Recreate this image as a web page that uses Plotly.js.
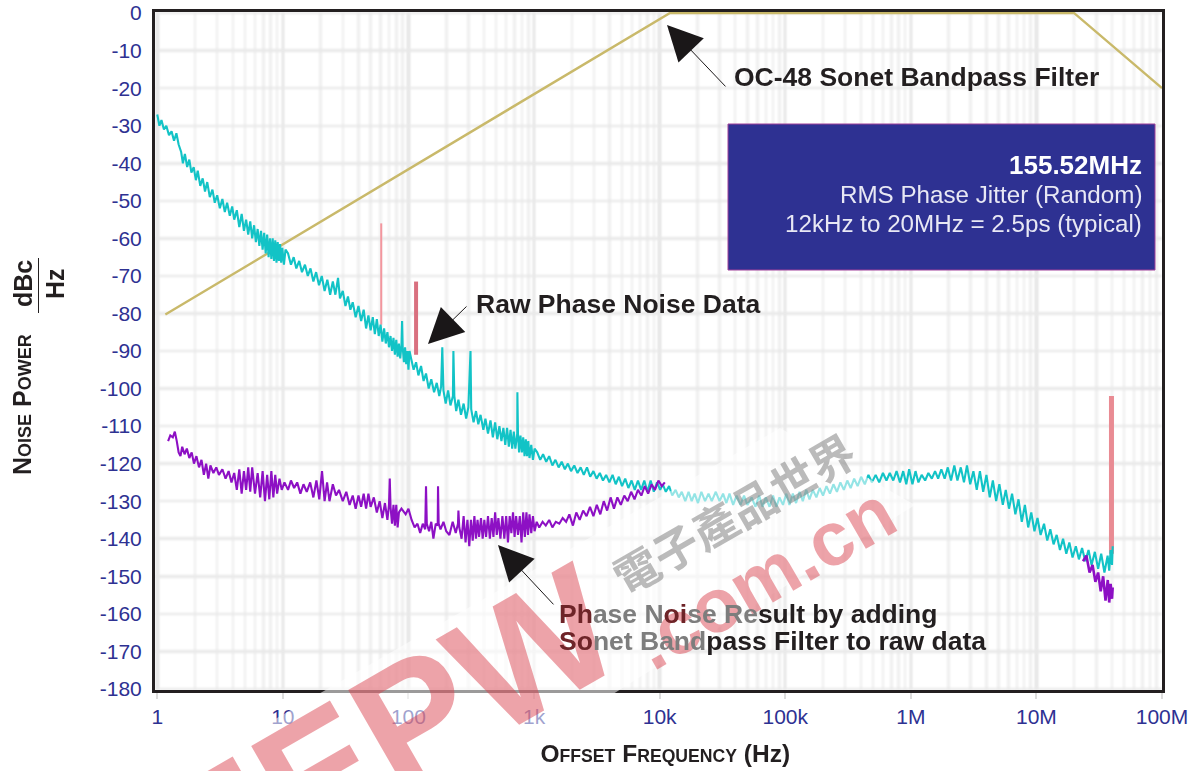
<!DOCTYPE html>
<html><head><meta charset="utf-8">
<script src="https://cdn.plot.ly/plotly-3.0.1.min.js"></script>
<style>html,body{margin:0;padding:0;background:#fff}#g{width:1204px;height:771px}</style>
</head><body><div id="g"></div>
<script>
const xTickVals=[1,10,100,1000,10000,100000,1000000,10000000,100000000];
const xTickText=['1','10','100','1k','10k','100k','1M','10M','100M'];
const yTickVals=[0,-10,-20,-30,-40,-50,-60,-70,-80,-90,-100,-110,-120,-130,-140,-150,-160,-170,-180];
const yTickText=['0','-10','-20','-30','-40','-50','-60','-70','-80','-90','-100','-110','-120','-130','-140','-150','-160','-170','-180'];

const filterFreq=[1.16,12000,20000000,100000000];
const filterDb=[-80.3,0,0,-20];

const rawNoise=[
[1.0,-27],[1.04,-30],[1.08,-28.5],[1.13,-31],[1.18,-30],[1.24,-32.5],[1.3,-31.5],[1.36,-34],[1.42,-32],[1.48,-35],[1.55,-37],[1.6,-40],[1.66,-37.5],[1.73,-41],[1.8,-39],[1.87,-42.5],[1.95,-41],[2.03,-44.5],[2.1,-42],[2.2,-46],[2.3,-44],[2.4,-47.5],[2.5,-45],[2.62,-49],[2.75,-47],[2.87,-50.5],[3.0,-48.5],[3.15,-52],[3.3,-49.5],[3.45,-53],[3.6,-50.5],[3.78,-54],[3.95,-51.5],[4.1,-55],[4.3,-52.5],[4.5,-57],[4.7,-53.5],[4.9,-58],[5.1,-55],[5.3,-59],[5.5,-55.5],[5.7,-60],[5.9,-56.5],[6.1,-61],[6.3,-57.5],[6.5,-62],[6.7,-58],[6.9,-63],[7.1,-58.5],[7.3,-64],[7.5,-59],[7.7,-65],[7.9,-60],[8.1,-65.5],[8.3,-60],[8.5,-66],[8.7,-60.5],[8.9,-66.5],[9.1,-61],[9.3,-66],[9.5,-61.5],[9.7,-66.5],[9.9,-62.5],[10.2,-67],[10.5,-63],
[11,-64],[11.6,-67],[12.2,-65],[12.8,-68],[13.5,-66],[14.2,-69],[15,-67],[15.8,-70],[16.6,-68],[17.5,-71.5],[18.4,-69],[19.4,-72.5],[20.4,-70],[21.5,-74],[22.6,-71],[23.8,-75],[25,-71.5],[26.2,-75],[27.5,-70.5],[28.5,-76],[30,-74],[31.5,-78],[33,-75.5],[34.5,-79],[36,-77],[38,-81],[40,-78],[42,-82],[44,-79],[46,-84],[48,-80.5],[50,-84.5],[52,-81],[54,-85.5],[56,-81.5],[58,-86],[60,-83],[62,-87.5],[64,-84],[66,-88],[68,-85],[70,-89],[72,-86],[74,-90],[76,-86.5],[78,-91],[80,-87],[82,-91.5],[84,-88],[86,-92],[88,-88.5],[89,-82],[90,-89],[92,-93],[94,-89],[96,-93.5],[98,-90],[100,-95],[102,-90],
[105,-92],[110,-95],[115,-93],[120,-96.5],[126,-94],[132,-98],[138,-96],[145,-100],[152,-97.5],[160,-101],[168,-98.5],[176,-102],[182,-99.5],[186,-89],[190,-100.5],[198,-104],[207,-100.5],[216,-104.5],[226,-102],[228,-90],[232,-102],[240,-106],[250,-103],[262,-107],[275,-104],[288,-108],[300,-105],[312,-90],[316,-105.5],[330,-109],[345,-106],[360,-109.5],[375,-107],[395,-111],[410,-108],[430,-112],[450,-108.5],[470,-113],[490,-109],[510,-113.5],[530,-110],[550,-114],[570,-110.5],[590,-115],[610,-110.5],[630,-115.5],[650,-111],[670,-116],[690,-111.5],[710,-116],[735,-112],[737,-101],[745,-112],[760,-117],[780,-112.5],[800,-117],[820,-113],[840,-118],[860,-113.5],[880,-118],[900,-114],[920,-118.5],[950,-115],[980,-119],[1010,-116],
[1060,-117],[1120,-119],[1180,-117.5],[1250,-119.5],[1320,-118],[1400,-120.5],[1480,-119],[1570,-121],[1660,-119.5],[1760,-121.5],[1860,-120],[1970,-122],[2090,-120.5],[2220,-122.5],[2350,-121],[2490,-123],[2640,-121],[2800,-123.5],[2970,-122],[3150,-124],[3340,-122.5],[3540,-124.5],[3750,-123],[3980,-125],[4220,-123],[4470,-125.5],[4740,-123.5],[5020,-126],[5320,-124],[5640,-126.5],[5980,-124.5],[6340,-127],[6720,-124.5],[7120,-127],[7550,-124.5],[8000,-127.5],[8480,-124.5],[8990,-127.5],[9530,-125],[10100,-127],
[10600,-125.5],[11200,-127.5],[11900,-126],[12600,-128.5],[13400,-127],[14200,-129],[15000,-127.5],[16000,-130],[17000,-127.5],[18000,-130],[19000,-128],[20200,-130.5],[21500,-127.5],[23000,-130],[24500,-128],[26000,-130],[28000,-127.5],[30000,-130],[32000,-128],[34000,-130.5],[36000,-128],[38500,-131],[41000,-128.5],[44000,-131],[47000,-128.5],[50000,-131],[54000,-129],[58000,-131.5],[62000,-128.5],[66000,-131.5],[70000,-129],[75000,-131.5],[80000,-128.5],[85000,-131.5],[90000,-129],[96000,-131],[102000,-128],[108000,-131],[115000,-128],[122000,-130.5],[130000,-127.5],[138000,-130],[147000,-127],[156000,-129.5],[166000,-127],[177000,-129],[188000,-126.5],[200000,-128.5],[213000,-126],[227000,-128],[242000,-125.5],[258000,-127.5],[275000,-125],[293000,-127],[312000,-124.5],[332000,-126.5],[354000,-124],[377000,-126],[402000,-123.5],[430000,-125.5],[460000,-123],[490000,-125],[525000,-123],[560000,-125],[600000,-122.5],[640000,-124.5],[680000,-122.5],[725000,-124.5],[770000,-122],[820000,-125],[870000,-122],[920000,-125.5],[970000,-121.5],[1030000,-125.5],[1090000,-122],
[1150000,-125],[1220000,-123],[1300000,-124.5],[1380000,-122.5],[1470000,-124],[1560000,-122],[1650000,-124],[1750000,-121.5],[1860000,-124],[1970000,-121],[2090000,-124.5],[2220000,-120.5],[2350000,-124.5],[2500000,-121],[2650000,-125],[2800000,-120.5],[2970000,-125.5],[3150000,-122],[3350000,-127],[3550000,-122],[3770000,-127.5],[4000000,-123],[4250000,-129],[4500000,-124.5],[4780000,-130],[5070000,-125.5],[5400000,-131],[5700000,-127],[6050000,-132],[6400000,-128],[6800000,-133.5],[7200000,-129.5],[7650000,-135.5],[8100000,-131],[8600000,-137],[9100000,-133],[9650000,-138],[10200000,-134.5],[10800000,-139],[11500000,-136],[12200000,-140.5],[12900000,-137.5],[13700000,-141.5],[14500000,-139],[15400000,-143],[16300000,-140],[17300000,-144],[18300000,-141],[19400000,-145],[20600000,-142],[21800000,-145.5],[23100000,-142.5],[24500000,-146],[26000000,-143],[27500000,-147],[29200000,-143.5],[31000000,-148],[32800000,-144],[34800000,-149],[36900000,-144.5],[38000000,-148.5],[39000000,-143],[40000000,-147],[40500000,-142]
];

const filteredNoise=[
[1.22,-114],[1.27,-112.5],[1.33,-113],[1.38,-111.5],[1.43,-114],[1.48,-117],[1.53,-118],[1.58,-115.5],[1.65,-117.5],[1.72,-116],[1.8,-118.5],[1.88,-117],[1.96,-120],[2.05,-118],[2.15,-121],[2.25,-119],[2.35,-123],[2.45,-120],[2.55,-124],[2.65,-120.5],[2.8,-122.5],[2.95,-121],[3.1,-123],[3.3,-121.5],[3.5,-124],[3.7,-122],[3.9,-125],[4.1,-122.5],[4.3,-127],[4.5,-121.5],[4.7,-128],[4.9,-122],[5.1,-127],[5.3,-121],[5.5,-127.5],[5.7,-121],[6,-128],[6.3,-122.5],[6.6,-129],[6.9,-122],[7.2,-130],[7.5,-123],[7.8,-129.5],[8.1,-122],[8.4,-129],[8.7,-123],[9,-128],[9.4,-124],[9.8,-127],[10.3,-125],
[11,-127],[11.6,-124.5],[12.3,-126.5],[13,-125],[13.8,-128],[14.6,-125.5],[15.5,-127.5],[16.5,-125],[17.5,-129],[18.5,-124.5],[19.5,-129.5],[20.5,-122],[21.5,-130],[22.5,-125],[23.5,-130],[25,-125.5],[26.5,-128.5],[28,-127],[30,-130],[32,-127.5],[34,-131],[36,-128.5],[38,-132],[40,-128.5],[42,-131.5],[44,-128],[46,-132],[48,-128],[50,-131.5],[53,-129],[56,-133],[59,-130],[62,-134.5],[65,-130.5],[68,-135],[70,-131],[71,-124],[72,-131.5],[74,-136],[76,-131],[78,-136.5],[80,-131],[82,-137],[84,-133],[88,-132],[95,-133.5],
[100,-132],[106,-135],[112,-137],[118,-136],[124,-138.5],[130,-136],[136,-137.5],[138,-126],[140,-136],[146,-138],[152,-135.5],[158,-140],[165,-136],[171,-136.5],[172,-126],[174,-136],[180,-137.5],[190,-135.5],[200,-138],[212,-139],[225,-135.5],[238,-138.5],[248,-136],[250,-132.5],[254,-137],[265,-140],[275,-134],[285,-141],[295,-135],[305,-142],[315,-135],[325,-140.5],[335,-134],[345,-140],[355,-135],[365,-139.5],[378,-134.5],[390,-140],[402,-135],[415,-139.5],[430,-134],[445,-140],[460,-134.5],[475,-139.5],[490,-133],[505,-139],[520,-134.5],[540,-140],[560,-134],[580,-140],[600,-134],[620,-141],[640,-134],[660,-138.5],[680,-133],[700,-139.5],[720,-134],[745,-139],[770,-134],[795,-141],[820,-133],[845,-139.5],[870,-133],[895,-139],[920,-133.5],[950,-138.5],[980,-134],[1010,-138],[1050,-135.5],
[1100,-137],[1170,-135.5],[1240,-136.5],[1320,-135],[1400,-137],[1490,-135.5],[1590,-136],[1690,-134.5],[1800,-135.5],[1910,-133.5],[2040,-136.5],[2170,-133],[2310,-135],[2460,-132.5],[2620,-134],[2790,-131.5],[2970,-134],[3160,-131],[3370,-133.5],[3590,-130],[3820,-132.5],[4070,-129],[4330,-132],[4610,-129],[4910,-131],[5230,-128.5],[5570,-130],[5930,-127.5],[6310,-129.5],[6720,-127],[7150,-128.5],[7610,-126],[8100,-128],[8630,-125.5],[9180,-127],[9780,-124.5],[10400,-126],[11000,-125]
];
const filteredTail=[[23500000,-146],[25000000,-144.5],[26500000,-149],[28000000,-147],[29500000,-151.5],[31000000,-149],[32500000,-154],[34000000,-150],[35500000,-156.5],[37000000,-151],[38000000,-157],[39000000,-152],[40000000,-156],[40500000,-153]];

const spikeA=[[60.7,-56],[60.7,-83]];
const spikeB=[[115,-71.5],[115,-91]];
const spikeC=[[39600000,-102],[39600000,-144]];

// page pixel -> paper fraction, for annotation placement only
const L=155,R=1162,T=12,B=690;
const px=x=>(x-L)/(R-L), py=y=>(B-y)/(B-T);
const col=(a,i)=>a.map(p=>p[i]);
const line=(a,color,width)=>({type:'scatter',mode:'lines',x:col(a,0),y:col(a,1),line:{color,width},hoverinfo:'skip',showlegend:false});

const traces=[
 line(spikeA,'#f3969e',2),
 line(spikeB,'#d9707f',4),
 line(spikeC,'#e98b93',5),
 line(filterFreq.map((f,i)=>[f,filterDb[i]]),'#c9b96a',2.4),
 line(rawNoise,'#12c3c6',2.1),
 line(filteredNoise,'#8d10c4',2.1),
 line(filteredTail,'#8d10c4',2.6)
];

const F='"Liberation Sans",Arial,sans-serif';
const DARK='#231f20';
const PINK='rgba(216,60,72,0.47)';
const text=(x,y,t,size,opt={})=>Object.assign({xref:'paper',yref:'paper',x:px(x),y:py(y),text:t,showarrow:false,xanchor:'left',yanchor:'middle',font:{family:F,size,color:DARK}},opt);
const arrow=(tx,ty,ax,ay)=>({xref:'paper',yref:'paper',x:px(tx),y:py(ty),axref:'pixel',ayref:'pixel',ax:ax-tx,ay:ay-ty,text:' ',showarrow:true,arrowhead:2,arrowsize:7,arrowwidth:1,arrowcolor:'#1a1718',standoff:0,font:{size:1}});
const sc=s=>`<span style="font-size:0.72em">${s}</span>`;

const annotations=[
 text(387,734,'<b>EEPW</b>',168,{xanchor:'center',textangle:-30,font:{family:F,size:168,color:PINK}}),
 text(763,577,'<b>.com.cn</b>',76,{xanchor:'center',textangle:-30,font:{family:F,size:76,color:PINK}}),
 text(733,512,'<b>電子產品世界</b>',45,{xanchor:'center',textangle:-30,font:{family:'"Noto Sans CJK TC"',size:45,color:'rgba(120,120,120,0.5)'}}),
 arrow(667,25,727,88),
 arrow(428,344,468,305),
 arrow(498,545,555,606),
 text(732,77,'<b>OC-48 Sonet Bandpass Filter</b>',26.5),
 text(474,304,'<b>Raw Phase Noise Data</b>',26.5),
 text(557,614,'<b><span style="color:#6e2428">Ph</span><span style="color:#7d7d7d">ase N</span><span style="color:#6e2428">oi</span><span style="color:#7d7d7d">se Re</span>sult by adding</b>',26.5),
 text(557,641,'<b><span style="color:#6e2428">So</span><span style="color:#7d7d7d">net Band</span>pass Filter to raw data</b>',26.5),
 text(1143.5,165,'<b>155.52MHz</b>',26,{xanchor:'right',font:{family:F,size:26,color:'#ffffff'}}),
 text(1143.5,195,'RMS Phase Jitter (Random)',24.2,{xanchor:'right',font:{family:F,size:24.2,color:'#e8e8f4'}}),
 text(1143.5,224,'12kHz to 20MHz = 2.5ps (typical)',24.2,{xanchor:'right',font:{family:F,size:24.2,color:'#e8e8f4'}}),
 text(22,405,`<b>N${sc('OISE')} P${sc('OWER')}</b>`,25,{xanchor:'center',textangle:-90}),
 text(23,284,'<b>dBc</b>',25,{xanchor:'center',textangle:-90}),
 text(55,284,'<b>Hz</b>',25,{xanchor:'center',textangle:-90})
];

const shapes=[
 {type:'path',xref:'paper',yref:'paper',layer:'above',line:{width:0},fillcolor:'rgba(255,255,255,0.55)',
  path:`M${px(185)},${py(771)} L${px(780)},${py(428)} L${px(915)},${py(505)} L${px(490)},${py(771)} Z`},
 {type:'rect',xref:'paper',yref:'paper',layer:'above',x0:px(728),x1:px(1155),y0:py(270),y1:py(124),fillcolor:'#2e3192',line:{color:'#a0409a',width:1}},
 {type:'line',xref:'paper',yref:'paper',x0:px(38.5),x1:px(38.5),y0:py(258),y1:py(313),line:{color:DARK,width:1}}
];

const layout={
 width:1204,height:771,margin:{l:L,r:1204-R,t:T,b:771-B,autoexpand:false},
 paper_bgcolor:'#fff',plot_bgcolor:'#fff',showlegend:false,font:{family:F},
 xaxis:{type:'log',range:[-0.018,8],tickmode:'array',tickvals:xTickVals,ticktext:xTickText,automargin:true,
  showgrid:true,gridcolor:'#e6e6e6',gridwidth:2.5,
  minor:{dtick:'D1',showgrid:true,gridcolor:'#eeeeee',gridwidth:2.5,ticks:''},
  ticks:'outside',ticklen:6,tickwidth:2,tickcolor:'#dcdcdc',
  tickfont:{family:F,size:21,color:'#2e3192'},
  showline:true,linecolor:DARK,linewidth:3,mirror:true,zeroline:false,
  title:{text:`&nbsp;&nbsp;<b>O${sc('FFSET')} F${sc('REQUENCY')} (Hz)</b>`,font:{family:F,size:24.5,color:DARK},standoff:18}},
 yaxis:{type:'linear',range:[-180.3,0.3],tickmode:'array',tickvals:yTickVals,ticktext:yTickText,
  showgrid:true,gridcolor:'#e8e8e8',gridwidth:2.5,zeroline:false,
  ticks:'outside',ticklen:6,tickwidth:1,tickcolor:'rgba(255,255,255,0)',
  tickfont:{family:F,size:21,color:'#2e3192'},
  showline:true,linecolor:DARK,linewidth:3,mirror:true},
 shapes,annotations
};
Plotly.newPlot('g',traces,layout,{staticPlot:true,displayModeBar:false}).then(()=>{
 document.querySelectorAll('.gridlayer,.minor-gridlayer').forEach(e=>{e.style.filter='blur(1px)';});
 document.querySelectorAll('.scatterlayer').forEach(e=>{e.style.filter='blur(0.7px)';});
});
</script></body></html>
